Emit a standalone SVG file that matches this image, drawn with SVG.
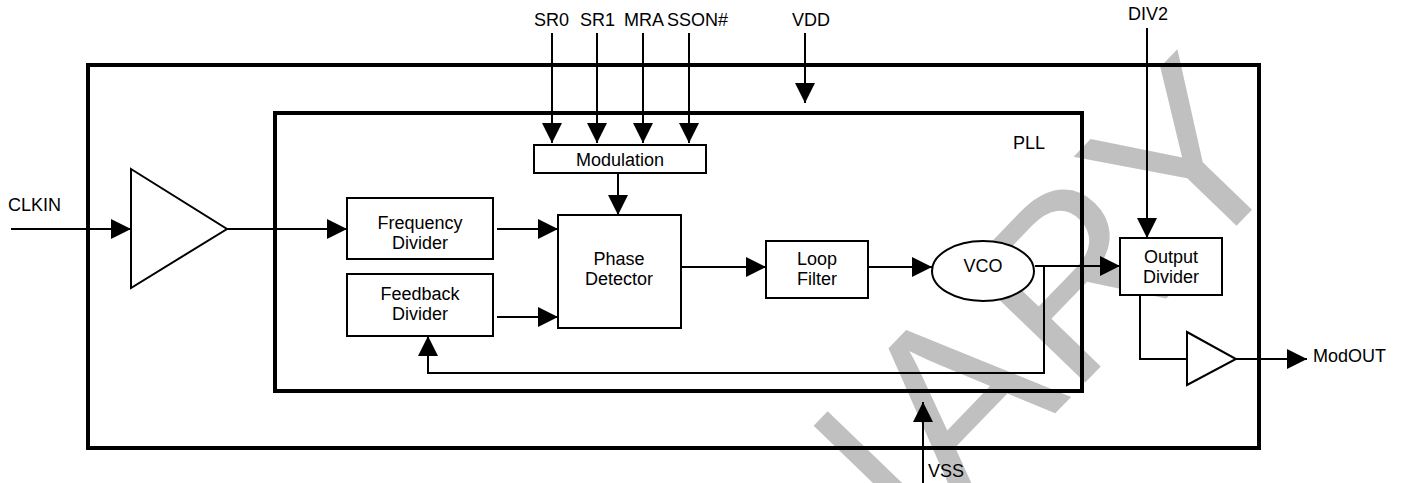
<svg xmlns="http://www.w3.org/2000/svg" width="1406" height="483" viewBox="0 0 1406 483">
<style>
  text { font-family: "Liberation Sans", Arial, sans-serif; font-size: 18px; fill: #000; }
  .c { text-anchor: middle; }
  .box { fill: #fff; stroke: #000; stroke-width: 2; }
  .frame { fill: none; stroke: #000; stroke-width: 4; }
  .wire { fill: none; stroke: #000; stroke-width: 2; }
  .arr { marker-end: url(#ah); }
  .wm { font-size: 240px; fill: #c0c0c0; text-anchor: end; }
</style>
<defs>
  <marker id="ah" markerUnits="userSpaceOnUse" markerWidth="20" markerHeight="20" refX="20" refY="10" orient="auto">
    <path d="M0,0 L20,10 L0,20 z" fill="#000"/>
  </marker>
</defs>
<rect width="1406" height="483" fill="#fff"/>
<text class="wm" transform="translate(1300,160) rotate(-46)">PRELIMINARY</text>

<g id="chip"><rect class="frame" x="88" y="65" width="1171" height="383"/></g>
<g id="pll"><rect class="frame" x="275" y="113" width="807" height="278"/><text x="1013" y="149">PLL</text></g>

<g id="connectors">
  <path class="wire arr" d="M11,229 H131"/>
  <path class="wire arr" d="M227,229 H347"/>
  <path class="wire arr" d="M497,229 H558"/>
  <path class="wire arr" d="M497,317 H558"/>
  <path class="wire arr" d="M552,33 V143"/>
  <path class="wire arr" d="M597,33 V143"/>
  <path class="wire arr" d="M643,33 V143"/>
  <path class="wire arr" d="M689,33 V143"/>
  <path class="wire arr" d="M805,33 V103"/>
  <path class="wire arr" d="M618,173 V215"/>
  <path class="wire arr" d="M681,267 H766"/>
  <path class="wire arr" d="M868,267 H932"/>
  <path class="wire arr" d="M1035,266 H1120"/>
  <path class="wire arr" d="M1044,266 V373 H428 V336"/>
  <path class="wire arr" d="M1147,28 V238"/>
  <path class="wire" d="M1140,295 V359 H1187"/>
  <path class="wire arr" d="M1236,359 H1307"/>
  <path class="wire arr" d="M923,483 V402"/>
</g>

<g id="labels">
  <text x="534" y="26">SR0</text>
  <text x="580" y="26">SR1</text>
  <text x="624" y="26">MRA</text>
  <text x="667" y="26">SSON#</text>
  <text x="792" y="26">VDD</text>
  <text x="1148" y="20" class="c">DIV2</text>
  <text x="8" y="211">CLKIN</text>
  <text x="1313" y="362">ModOUT</text>
  <text x="928" y="477">VSS</text>
</g>

<g id="input-buffer"><path class="box" d="M131,169 L227,229 L131,288 Z"/></g>
<g id="modulation"><rect class="box" x="534" y="145" width="172" height="28"/><text x="620" y="166" class="c">Modulation</text></g>
<g id="frequency-divider"><rect class="box" x="347" y="198" width="146" height="61"/><text x="420" y="229" class="c">Frequency</text><text x="420" y="249" class="c">Divider</text></g>
<g id="feedback-divider"><rect class="box" x="347" y="274" width="146" height="62"/><text x="420" y="300" class="c">Feedback</text><text x="420" y="320" class="c">Divider</text></g>
<g id="phase-detector"><rect class="box" x="558" y="215" width="123" height="113"/><text x="619" y="265" class="c">Phase</text><text x="619" y="285" class="c">Detector</text></g>
<g id="loop-filter"><rect class="box" x="766" y="241" width="102" height="57"/><text x="817" y="265" class="c">Loop</text><text x="817" y="285" class="c">Filter</text></g>
<g id="vco"><ellipse class="box" cx="983" cy="271" rx="51" ry="30"/><text x="983" y="272" class="c">VCO</text></g>
<g id="output-divider"><rect class="box" x="1120" y="238" width="102" height="57"/><text x="1171" y="263" class="c">Output</text><text x="1171" y="283" class="c">Divider</text></g>
<g id="output-buffer"><path class="box" d="M1187,332 L1236,359 L1187,385 Z"/></g>
</svg>
